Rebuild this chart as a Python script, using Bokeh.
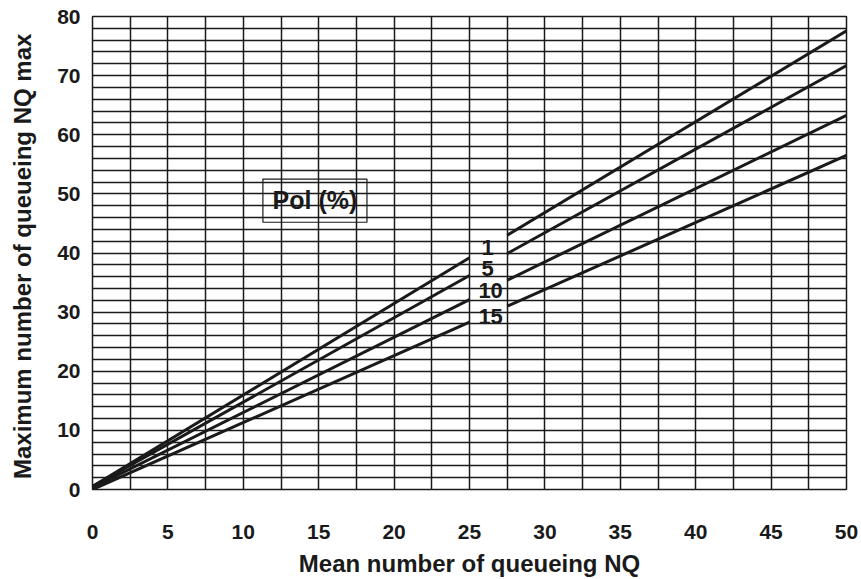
from bokeh.plotting import figure
from bokeh.models import FixedTicker, Range1d
from bokeh.core.properties import value
from bokeh.embed import file_html
from bokeh.resources import INLINE

# Data
series = ["1", "5", "10", "15"]
x_left = [0, 25]
x_right = [27.5, 50]
y_left = {"1": [0.5, 39.2], "5": [0.5, 36.2], "10": [0.3, 32.1], "15": [0.0, 28.3]}
y_right = {"1": [43.0, 77.6], "5": [39.9, 71.7], "10": [35.4, 63.3], "15": [31.0, 56.5]}
label_x = [26.2, 26.2, 26.4, 26.4]
label_y = [41.0, 37.4, 33.7, 29.3]
x_ticks = [0, 5, 10, 15, 20, 25, 30, 35, 40, 45, 50]
y_ticks = [0, 10, 20, 30, 40, 50, 60, 70, 80]
x_grid = [i * 2.5 for i in range(21)]
y_grid = [i * 2 for i in range(41)]

FONT = "Liberation Sans"
INK = "#1a1a1a"

p = figure(output_backend="svg", toolbar_location=None,
           x_range=Range1d(0, 50), y_range=Range1d(0, 80),
           frame_width=754, frame_height=473,
           min_border_left=92, min_border_right=15, min_border_top=16, min_border_bottom=20)
p.background_fill_color = "white"
p.outline_line_color = INK
p.outline_line_width = 1.5

p.xgrid.ticker = FixedTicker(ticks=x_grid)
p.ygrid.ticker = FixedTicker(ticks=y_grid)
for g in (p.xgrid, p.ygrid):
    g.grid_line_color = INK
    g.grid_line_width = 1.5

p.xaxis.ticker = FixedTicker(ticks=x_ticks)
p.yaxis.ticker = FixedTicker(ticks=y_ticks)
for ax in (p.xaxis, p.yaxis):
    ax.axis_line_color = None
    ax.major_tick_line_color = None
    ax.minor_tick_line_color = None
    ax.major_tick_out = 0
    ax.major_tick_in = 0
    ax.minor_tick_out = 0
    ax.minor_tick_in = 0
    ax.major_label_text_font = FONT
    ax.major_label_text_font_style = "bold"
    ax.major_label_text_font_size = "21px"
    ax.major_label_text_color = INK
    ax.axis_label_text_font = FONT
    ax.axis_label_text_font_style = "bold"
    ax.axis_label_text_font_size = "24px"
    ax.axis_label_text_color = INK
    ax.axis_label_text_line_height = 1.0
p.xaxis.major_label_standoff = 35
p.xaxis.axis_label_standoff = 8
p.yaxis.major_label_standoff = 12
p.yaxis.axis_label_standoff = 18
p.xaxis.axis_label = "Mean number of queueing NQ"
p.yaxis.axis_label = "Maximum  number of queueing NQ max"

for s in series:
    p.line(x_left, y_left[s], line_color=INK, line_width=3)
    p.line(x_right, y_right[s], line_color=INK, line_width=3)

p.text(x=label_x, y=label_y, text=series, text_font=value(FONT), text_font_style="bold",
       text_font_size="22px", text_align="center", text_baseline="middle", text_color=INK)

p.quad(left=[11.3], right=[18.2], bottom=[45.2], top=[52.5], fill_alpha=0,
       line_color=INK, line_width=1.2)
p.text(x=[14.75], y=[48.9], text=["Pol (%)"], text_font=value(FONT), text_font_style="bold",
       text_font_size="25px", text_align="center", text_baseline="middle", text_color=INK)

open("out.html", "w").write(file_html(p, INLINE))
